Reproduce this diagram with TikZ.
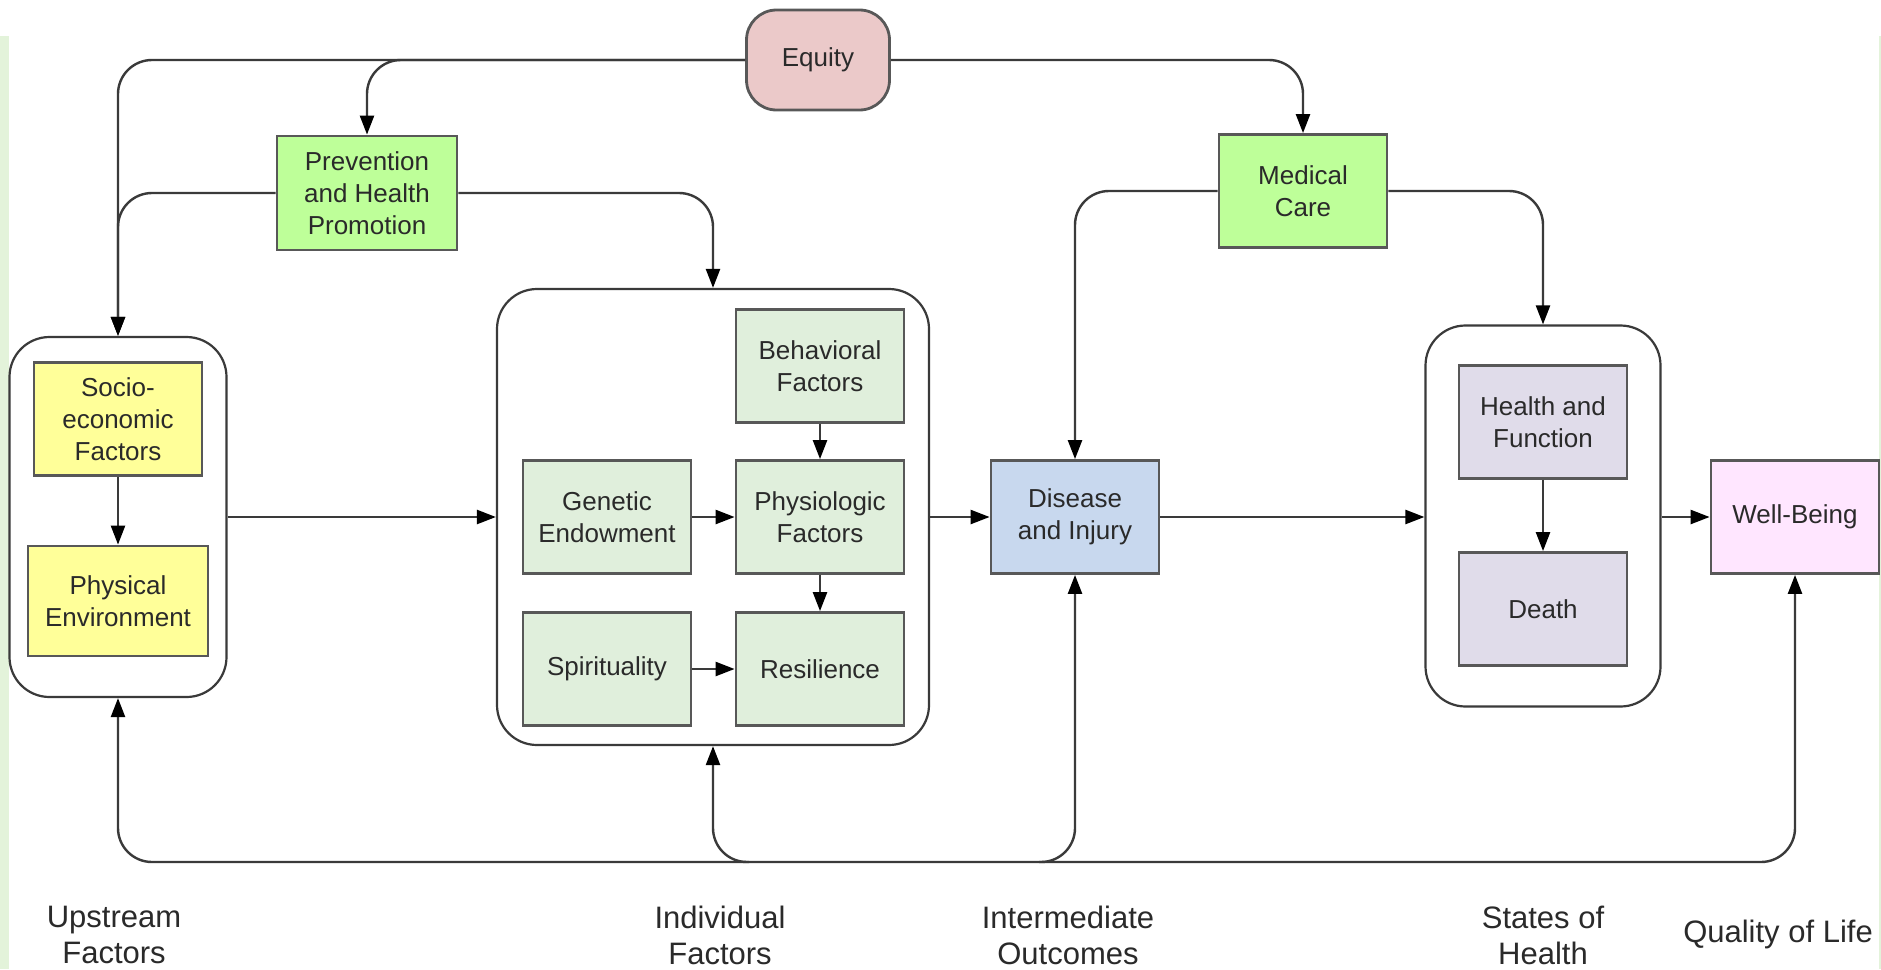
\documentclass[tikz,border=0pt]{standalone}
\usepackage{fontspec}
\setmainfont{Liberation Sans}
\usetikzlibrary{arrows.meta,calc}
\definecolor{lineC}{HTML}{3A3A3A}
\definecolor{boxline}{HTML}{585858}
\definecolor{stripC}{HTML}{E3F3DA}
\definecolor{eqC}{HTML}{EBC9C9}
\definecolor{greenC}{HTML}{BEFF99}
\definecolor{yelC}{HTML}{FFFF99}
\definecolor{indC}{HTML}{E0EFDC}
\definecolor{disC}{HTML}{C8D8EE}
\definecolor{stateC}{HTML}{E0DCEA}
\definecolor{wbC}{HTML}{FFE6FF}
\definecolor{txtC}{HTML}{2A2A2A}
\begin{document}
\begin{tikzpicture}[x=1pt,y=-1pt,
  box/.style={draw=boxline, line width=2.8pt, minimum width=168pt, minimum height=113pt,
    align=center, font=\fontsize{26}{32}\selectfont, inner sep=0pt, text=txtC},
  grp/.style={draw=lineC, line width=2.2pt, rounded corners=40pt, fill=white, inner sep=0pt},
  tip/.tip={Triangle[length=19pt,width=14pt,color=black]},
  conn/.style={draw=lineC, line width=2.4pt, -tip, rounded corners=34pt},
  lab/.style={align=center, font=\fontsize{31}{36}\selectfont, text=txtC}
]
\useasboundingbox (0,0) rectangle (1881,969);
\fill[white] (0,0) rectangle (1881,969);
\fill[stripC] (0,36) rectangle (9,969);
\fill[stripC] (1879,36) rectangle (1881,969);

% groups
\node[grp, minimum width=217pt, minimum height=360pt] (lg) at (118,517) {};
\node[grp, minimum width=432pt, minimum height=456pt] (mg) at (713,517) {};
\node[grp, minimum width=235pt, minimum height=381pt] (rg) at (1543,516) {};

% top nodes
\node[box, fill=eqC, rounded corners=30pt, minimum width=143pt, minimum height=100pt] (eq) at (818,60) {Equity};
\node[box, fill=greenC, minimum width=180pt, minimum height=114pt] (prev) at (367,193) {Prevention\\and Health\\Promotion};
\node[box, fill=greenC] (med) at (1303,191) {Medical\\Care};

% left group
\node[box, fill=yelC] (soc) at (118,419) {Socio-\\economic\\Factors};
\node[box, fill=yelC, minimum width=180pt, minimum height=110pt] (phy) at (118,601) {Physical\\Environment};

% middle group
\node[box, fill=indC] (beh) at (820,366) {Behavioral\\Factors};
\node[box, fill=indC] (gen) at (607,517) {Genetic\\Endowment};
\node[box, fill=indC] (phs) at (820,517) {Physiologic\\Factors};
\node[box, fill=indC] (spi) at (607,669) {Spirituality};
\node[box, fill=indC] (res) at (820,669) {Resilience};

% outcomes
\node[box, fill=disC] (dis) at (1075,517) {Disease\\and Injury};
\node[box, fill=stateC] (hf) at (1543,422) {Health and\\Function};
\node[box, fill=stateC] (dea) at (1543,609) {Death};
\node[box, fill=wbC] (wb) at (1795,517) {Well-Being};

% labels
\node[lab] (l1) at (114,935) {Upstream\\Factors};
\node[lab] (l2) at (720,935) {Individual\\Factors};
\node[lab] (l3) at (1068,935) {Intermediate\\Outcomes};
\node[lab] (l4) at (1543,935) {States of\\Health};
\node[lab] (l5) at (1778,934) {Quality of Life};

% top connectors
\draw[conn] (eq.west) -| (lg.north);
\draw[conn] (eq.west) -| (prev.north);
\draw[conn] (eq.east) -| (med.north);
\draw[conn] (prev.west) -| (lg.north);
\draw[conn] (prev.east) -| (mg.north);
\draw[conn] (med.west) -| (dis.north);
\draw[conn] (med.east) -| (rg.north);

% horizontal flow
\draw[conn] (lg.east |- gen.west) -- (mg.west |- gen.west);
\draw[conn] (gen) -- (phs);
\draw[conn] (spi) -- (res);
\draw[conn] (mg.east |- dis.west) -- (dis.west);
\draw[conn] (dis.east) -- (rg.west |- dis.east);
\draw[conn] (rg.east |- wb.west) -- (wb.west);

% vertical flow
\draw[conn] (soc) -- (phy);
\draw[conn] (beh) -- (phs);
\draw[conn] (phs) -- (res);
\draw[conn] (hf) -- (dea);

% bottom feedback loop
\coordinate (base) at (0,862);
\coordinate (mgb) at ($(mg.south |- base)+(36,0)$);
\coordinate (disb) at ($(dis.south |- base)+(-36,0)$);
\draw[conn, tip-tip] (lg.south) |- (base -| wb.south) -- (wb.south);
\draw[conn] (mgb) -| (mg.south);
\draw[conn] (disb) -| (dis.south);
\end{tikzpicture}
\end{document}
